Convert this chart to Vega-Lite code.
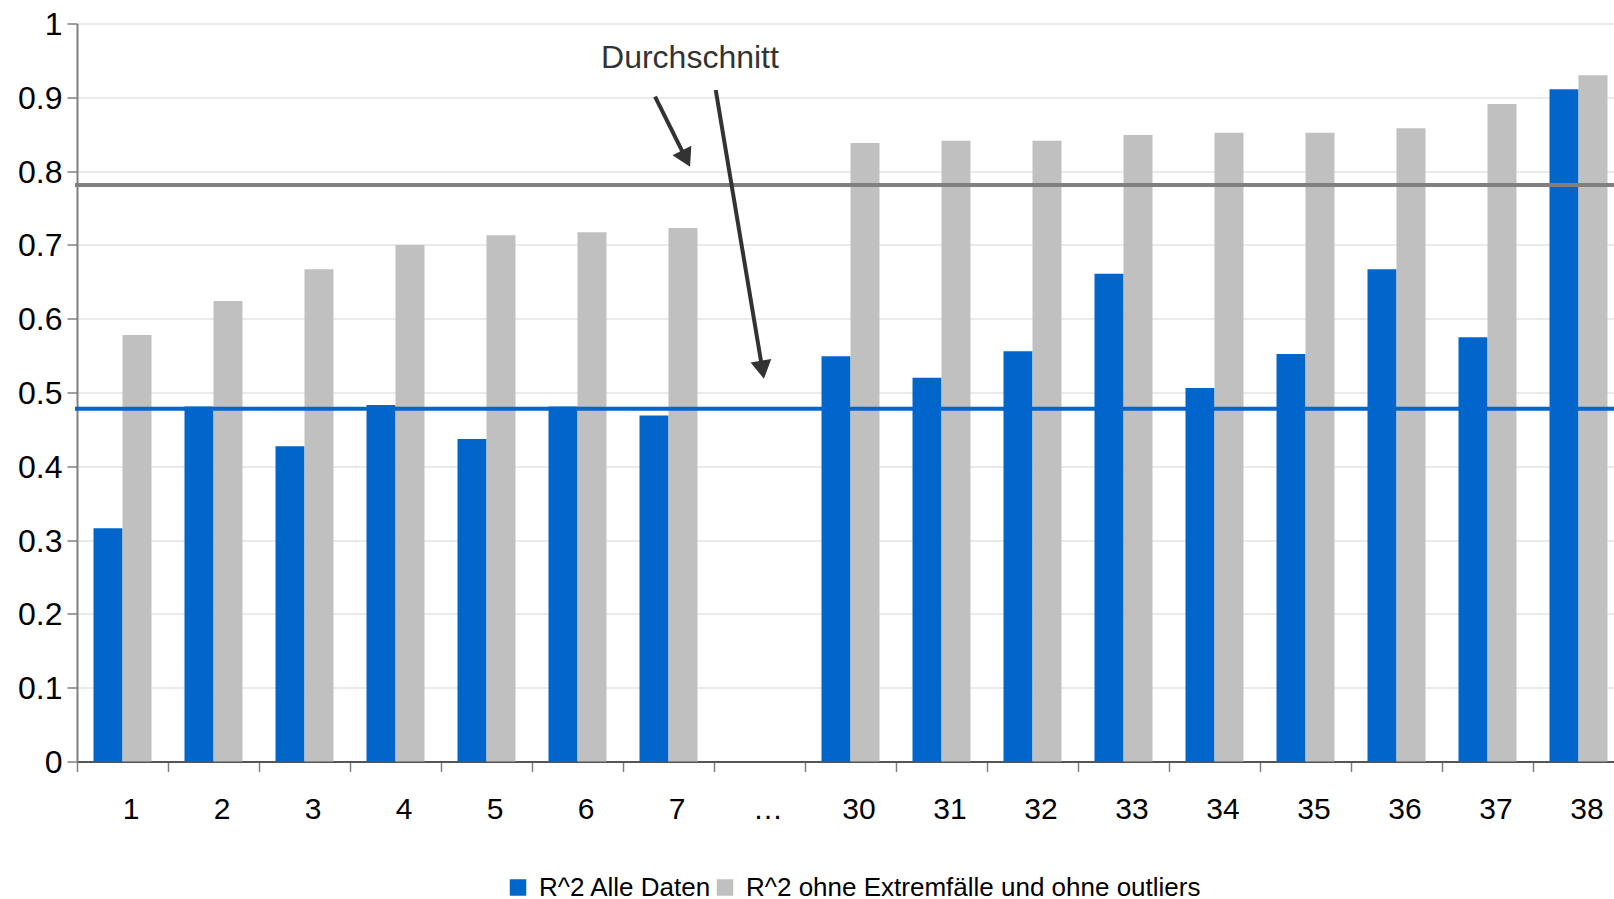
{
  "$schema": "https://vega.github.io/schema/vega-lite/v6.json",
  "width": 1547,
  "height": 738,
  "autosize": {"type": "none"},
  "padding": {"left": 77, "top": 23.5, "right": 0, "bottom": 137.5},
  "background": "white",
  "config": {
    "font": "Liberation Sans",
    "view": {"stroke": null},
    "axis": {"labelFont": "Liberation Sans", "labelColor": "black", "title": null}
  },
  "datasets": {
    "bars": [
      {"cat": "1", "series": "R^2 Alle Daten", "value": 0.316},
      {"cat": "1", "series": "R^2 ohne Extremfälle und ohne outliers", "value": 0.578},
      {"cat": "2", "series": "R^2 Alle Daten", "value": 0.481},
      {"cat": "2", "series": "R^2 ohne Extremfälle und ohne outliers", "value": 0.624},
      {"cat": "3", "series": "R^2 Alle Daten", "value": 0.427},
      {"cat": "3", "series": "R^2 ohne Extremfälle und ohne outliers", "value": 0.667},
      {"cat": "4", "series": "R^2 Alle Daten", "value": 0.483},
      {"cat": "4", "series": "R^2 ohne Extremfälle und ohne outliers", "value": 0.700},
      {"cat": "5", "series": "R^2 Alle Daten", "value": 0.437},
      {"cat": "5", "series": "R^2 ohne Extremfälle und ohne outliers", "value": 0.713},
      {"cat": "6", "series": "R^2 Alle Daten", "value": 0.481},
      {"cat": "6", "series": "R^2 ohne Extremfälle und ohne outliers", "value": 0.717},
      {"cat": "7", "series": "R^2 Alle Daten", "value": 0.469},
      {"cat": "7", "series": "R^2 ohne Extremfälle und ohne outliers", "value": 0.723},
      {"cat": "30", "series": "R^2 Alle Daten", "value": 0.549},
      {"cat": "30", "series": "R^2 ohne Extremfälle und ohne outliers", "value": 0.838},
      {"cat": "31", "series": "R^2 Alle Daten", "value": 0.520},
      {"cat": "31", "series": "R^2 ohne Extremfälle und ohne outliers", "value": 0.841},
      {"cat": "32", "series": "R^2 Alle Daten", "value": 0.556},
      {"cat": "32", "series": "R^2 ohne Extremfälle und ohne outliers", "value": 0.841},
      {"cat": "33", "series": "R^2 Alle Daten", "value": 0.661},
      {"cat": "33", "series": "R^2 ohne Extremfälle und ohne outliers", "value": 0.849},
      {"cat": "34", "series": "R^2 Alle Daten", "value": 0.506},
      {"cat": "34", "series": "R^2 ohne Extremfälle und ohne outliers", "value": 0.852},
      {"cat": "35", "series": "R^2 Alle Daten", "value": 0.552},
      {"cat": "35", "series": "R^2 ohne Extremfälle und ohne outliers", "value": 0.852},
      {"cat": "36", "series": "R^2 Alle Daten", "value": 0.667},
      {"cat": "36", "series": "R^2 ohne Extremfälle und ohne outliers", "value": 0.858},
      {"cat": "37", "series": "R^2 Alle Daten", "value": 0.575},
      {"cat": "37", "series": "R^2 ohne Extremfälle und ohne outliers", "value": 0.891},
      {"cat": "38", "series": "R^2 Alle Daten", "value": 0.911},
      {"cat": "38", "series": "R^2 ohne Extremfälle und ohne outliers", "value": 0.930}
    ],
    "avg": [
      {"series": "R^2 Alle Daten", "value": 0.478},
      {"series": "R^2 ohne Extremfälle und ohne outliers", "value": 0.781}
    ],
    "arrow1": [{"x0": 6.352, "y0": 0.9008, "x1": 6.692, "y1": 0.8168}],
    "arrow2": [{"x0": 7.019, "y0": 0.9099, "x1": 7.532, "y1": 0.5309}],
    "note": [{"x": 6.736, "y": 0.9393, "text": "Durchschnitt"}]
  },
  "layer": [
    {
      "data": {"name": "bars"},
      "mark": {"type": "bar"},
      "encoding": {
        "x": {
          "field": "cat", "type": "nominal",
          "scale": {"domain": ["1","2","3","4","5","6","7","…","30","31","32","33","34","35","36","37","38"], "paddingInner": 0, "paddingOuter": 0},
          "axis": {"tickBand": "extent", "tickSize": 10, "tickColor": "#808080", "tickWidth": 1.5, "domainColor": "#555555", "domainWidth": 2, "labelFontSize": 30, "labelPadding": 23, "labelOffset": 8, "labelAngle": 0, "grid": false, "title": null}
        },
        "xOffset": {
          "field": "series", "type": "nominal",
          "scale": {"domain": ["R^2 Alle Daten", "R^2 ohne Extremfälle und ohne outliers"], "paddingInner": 0, "paddingOuter": 0.569}
        },
        "y": {
          "field": "value", "type": "quantitative",
          "scale": {"domain": [0, 1], "nice": false, "zero": true},
          "axis": {"values": [0,0.1,0.2,0.3,0.4,0.5,0.6,0.7,0.8,0.9,1], "format": "~g", "grid": true, "gridColor": "#e3e3e3", "gridWidth": 1.5, "tickSize": 10, "tickColor": "#808080", "tickWidth": 1.5, "domainColor": "#808080", "domainWidth": 2, "labelFontSize": 32, "labelPadding": 5, "labelOffset": 1, "title": null}
        },
        "color": {
          "field": "series", "type": "nominal",
          "scale": {"domain": ["R^2 Alle Daten", "R^2 ohne Extremfälle und ohne outliers"], "range": ["#0066CC", "#C0C0C0"]},
          "legend": {"orient": "none", "legendX": 428, "legendY": 851, "direction": "horizontal", "title": null, "symbolType": "square", "symbolSize": 272, "symbolStrokeWidth": 0, "labelFontSize": 26, "labelColor": "black", "labelFont": "Liberation Sans", "labelLimit": 0, "labelOffset": 8, "columnPadding": -3, "padding": 0}
        }
      }
    },
    {
      "data": {"name": "avg"},
      "mark": {"type": "rule", "strokeWidth": 4, "strokeCap": "square"},
      "encoding": {
        "y": {"field": "value", "type": "quantitative", "title": null},
        "stroke": {
          "field": "series", "type": "nominal",
          "scale": {"domain": ["R^2 Alle Daten", "R^2 ohne Extremfälle und ohne outliers"], "range": ["#0066CC", "#808080"]},
          "legend": null
        }
      }
    },
    {
      "data": {"name": "arrow1"},
      "mark": {"type": "rule", "strokeWidth": 4, "color": "#333333"},
      "encoding": {
        "x": {"field": "x0", "type": "quantitative", "scale": {"domain": [0, 17], "nice": false, "zero": false}, "axis": null},
        "x2": {"field": "x1"},
        "y": {"field": "y0", "type": "quantitative", "title": null},
        "y2": {"field": "y1"}
      }
    },
    {
      "data": {"name": "arrow1"},
      "mark": {"type": "point", "shape": "triangle-down", "filled": true, "size": 441, "color": "#333333", "opacity": 1, "angle": -26.6},
      "encoding": {
        "x": {"field": "x1", "type": "quantitative", "scale": {"domain": [0, 17], "nice": false, "zero": false}, "axis": null},
        "y": {"field": "y1", "type": "quantitative", "title": null}
      }
    },
    {
      "data": {"name": "arrow2"},
      "mark": {"type": "rule", "strokeWidth": 4, "color": "#333333"},
      "encoding": {
        "x": {"field": "x0", "type": "quantitative", "scale": {"domain": [0, 17], "nice": false, "zero": false}, "axis": null},
        "x2": {"field": "x1"},
        "y": {"field": "y0", "type": "quantitative", "title": null},
        "y2": {"field": "y1"}
      }
    },
    {
      "data": {"name": "arrow2"},
      "mark": {"type": "point", "shape": "triangle-down", "filled": true, "size": 441, "color": "#333333", "opacity": 1, "angle": -9.5},
      "encoding": {
        "x": {"field": "x1", "type": "quantitative", "scale": {"domain": [0, 17], "nice": false, "zero": false}, "axis": null},
        "y": {"field": "y1", "type": "quantitative", "title": null}
      }
    },
    {
      "data": {"name": "note"},
      "mark": {"type": "text", "fontSize": 32, "color": "#333333", "baseline": "alphabetic", "align": "center", "font": "Liberation Sans"},
      "encoding": {
        "x": {"field": "x", "type": "quantitative", "scale": {"domain": [0, 17], "nice": false, "zero": false}, "axis": null},
        "y": {"field": "y", "type": "quantitative", "title": null},
        "text": {"field": "text"}
      }
    }
  ],
  "resolve": {"scale": {"x": "independent"}}
}
